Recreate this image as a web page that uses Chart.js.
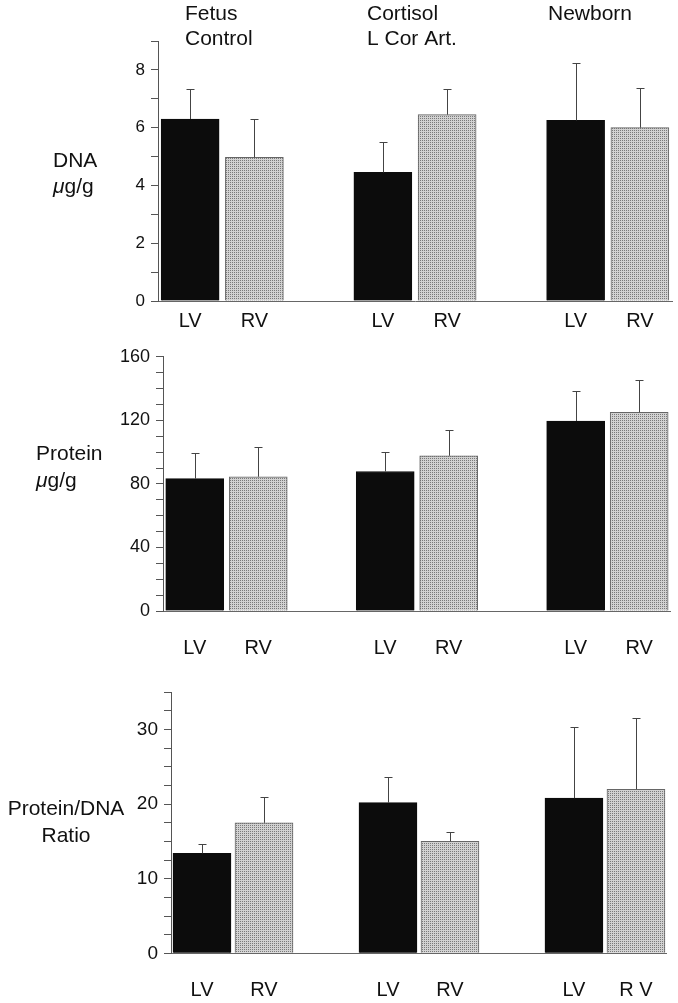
<!DOCTYPE html>
<html>
<head>
<meta charset="utf-8">
<script src="https://cdn.jsdelivr.net/npm/chart.js@4.4.0/dist/chart.umd.min.js"></script>
<style>
  html, body { margin: 0; padding: 0; background: #fff; }
  #wrap { position: relative; width: 678px; height: 1003px; }
  canvas { position: absolute; left: 0; }
</style>
</head>
<body>
<div id="wrap">
  <canvas id="dnaChart" width="678" height="340" style="top:0px"></canvas>
  <canvas id="proteinChart" width="678" height="325" style="top:340px"></canvas>
  <canvas id="ratioChart" width="678" height="338" style="top:665px"></canvas>
</div>
<script>
// groups across the top, left ventricle / right ventricle per group
const groupTitles = [["Fetus", "Control"], ["Cortisol", "L Cor Art."], ["Newborn"]];
const sideLabels = ["LV", "RV"];
const ratioSideLabels = [["LV", "RV"], ["LV", "RV"], ["LV", "R V"]];

// DNA ug/g
const dnaLV = [6.3, 4.45, 6.25];
const dnaLVErr = [1.05, 1.07, 1.98];
const dnaRV = [4.97, 6.45, 6.0];
const dnaRVErr = [1.34, 0.9, 1.38];
const dnaTicks = [0, 2, 4, 6, 8];

// Protein ug/g
const protLV = [83.3, 87.8, 119.6];
const protLVErr = [16.2, 12.3, 19.0];
const protRV = [84.5, 97.7, 125.1];
const protRVErr = [18.9, 16.3, 20.1];
const protTicks = [0, 40, 80, 120, 160];

// Protein/DNA ratio
const ratioLV = [13.4, 20.2, 20.8];
const ratioLVErr = [1.3, 3.4, 9.6];
const ratioRV = [17.5, 15.0, 22.0];
const ratioRVErr = [3.5, 1.3, 9.5];
const ratioTicks = [0, 10, 20, 30];

// where the group headings start (left edge of text)
const titleX = [185, 367, 548];

const FONT = "'Liberation Sans', Arial, Helvetica, sans-serif";
const INK = "#111";

function stipple() {
  const c = document.createElement("canvas");
  c.width = 2; c.height = 2;
  const g = c.getContext("2d");
  g.fillStyle = "#d2d2d2"; g.fillRect(0, 0, 2, 2);
  g.fillStyle = "#7a7a7a"; g.fillRect(0, 0, 1, 1);
  return g.createPattern(c, "repeat");
}
const rvFill = stipple();

// lay the three groups out as LV, RV, gap, LV, RV, gap, LV, RV
function slots(lv, rv) {
  const out = [];
  lv.forEach((v, i) => {
    if (i > 0) out.push(null);
    out.push(v, rv[i]);
  });
  return out;
}

const errorBars = {
  id: "errorBars",
  afterDatasetsDraw(chart) {
    const { ctx } = chart;
    const y = chart.scales.y;
    const ds = chart.data.datasets[0];
    const meta = chart.getDatasetMeta(0);
    ctx.save();
    ctx.strokeStyle = "#444";
    ctx.lineWidth = 1;
    meta.data.forEach((bar, i) => {
      if (ds.data[i] == null) return;
      const top = Math.round(y.getPixelForValue(ds.data[i] + ds.errors[i])) + 0.5;
      const x = Math.round(bar.x) + 0.5;
      ctx.beginPath();
      ctx.moveTo(x, bar.y);
      ctx.lineTo(x, top);
      ctx.moveTo(x - 4, top);
      ctx.lineTo(x + 4, top);
      ctx.stroke();
    });
    ctx.restore();
  },
};

// axis titles and group headings
const panelText = {
  id: "panelText",
  afterDraw(chart, args, opts) {
    const { ctx } = chart;
    ctx.save();
    ctx.fillStyle = INK;
    ctx.textBaseline = "alphabetic";
    for (const line of opts.lines || []) {
      ctx.textAlign = line.align || "left";
      if (line.mu) {
        ctx.font = "italic 21px " + FONT;
        const w = ctx.measureText("\u03bc").width;
        ctx.textAlign = "left";
        ctx.fillText("\u03bc", line.x, line.y);
        ctx.font = "21px " + FONT;
        ctx.fillText(line.text, line.x + w, line.y);
      } else {
        ctx.font = "21px " + FONT;
        ctx.fillText(line.text, line.x, line.y);
      }
    }
    if (opts.groups) {
      ctx.font = "21px " + FONT;
      ctx.textAlign = "left";
      opts.groups.forEach((lines, g) => {
        lines.forEach((t, k) => ctx.fillText(t, titleX[g], 19.5 + k * 25.5));
      });
    }
    ctx.restore();
  },
};

function makePanel(id, cfg) {
  const labels = [];
  cfg.xLabels.forEach((pair, i) => {
    if (i > 0) labels.push("");
    labels.push(pair[0], pair[1]);
  });
  const data = slots(cfg.lv, cfg.rv);
  const errors = slots(cfg.lvErr, cfg.rvErr);
  const colors = labels.map((l, i) => (i % 3 === 0 ? "#0c0c0c" : rvFill));
  const borders = labels.map((l, i) => (i % 3 === 0 ? "#0c0c0c" : "#666"));
  const canvas = document.getElementById(id);
  return new Chart(canvas, {
    type: "bar",
    data: {
      labels,
      datasets: [{ data, errors, backgroundColor: colors, borderColor: borders, borderWidth: 1, barThickness: 58 }],
    },
    options: {
      responsive: false,
      animation: false,
      devicePixelRatio: 1,
      layout: { padding: { top: cfg.top, right: cfg.right, left: 0, bottom: 0 } },
      plugins: {
        legend: { display: false },
        tooltip: { enabled: false },
        panelText: { lines: cfg.text, groups: cfg.groups },
      },
      scales: {
        x: {
          grid: { display: false, drawTicks: false },
          border: { display: true, color: "#666", width: 1 },
          ticks: { color: INK, font: { family: FONT, size: 20 }, padding: cfg.xPad, autoSkip: false, maxRotation: 0 },
          afterFit: (s) => { s.height = canvas.height - cfg.bottom; },
        },
        y: {
          min: 0,
          max: cfg.max,
          grid: { drawOnChartArea: false, drawTicks: true, tickLength: 7, color: "#555" },
          border: { display: true, color: "#555", width: 1 },
          ticks: {
            stepSize: cfg.step,
            autoSkip: false,
            color: INK,
            padding: 6,
            font: { family: FONT, size: cfg.tickSize },
            callback: (v) => (cfg.ticks.includes(v) ? String(v) : ""),
          },
          afterFit: (s) => { s.width = cfg.left; },
        },
      },
    },
    plugins: [errorBars, panelText],
  });
}

makePanel("dnaChart", {
  lv: dnaLV, lvErr: dnaLVErr, rv: dnaRV, rvErr: dnaRVErr,
  xLabels: [sideLabels, sideLabels, sideLabels],
  ticks: dnaTicks, max: 9, step: 1, tickSize: 17,
  left: 158, right: 6, top: 41, bottom: 301, xPad: 8,
  groups: groupTitles,
  text: [
    { text: "DNA", x: 53, y: 166.5 },
    { text: "g/g", x: 53, y: 192.5, mu: true },
  ],
});

makePanel("proteinChart", {
  lv: protLV, lvErr: protLVErr, rv: protRV, rvErr: protRVErr,
  xLabels: [sideLabels, sideLabels, sideLabels],
  ticks: protTicks, max: 160, step: 10, tickSize: 18,
  left: 163, right: 2, top: 10.7, bottom: 271, xPad: 25,
  text: [
    { text: "Protein", x: 36, y: 120 },
    { text: "g/g", x: 36, y: 146.5, mu: true },
  ],
});

makePanel("ratioChart", {
  lv: ratioLV, lvErr: ratioLVErr, rv: ratioRV, rvErr: ratioRVErr,
  xLabels: ratioSideLabels,
  ticks: ratioTicks, max: 35, step: 2.5, tickSize: 19,
  left: 171, right: 6, top: 27.3, bottom: 288.3, xPad: 25,
  text: [
    { text: "Protein/DNA", x: 66, y: 150, align: "center" },
    { text: "Ratio", x: 66, y: 176.5, align: "center" },
  ],
});
</script>
</body>
</html>
